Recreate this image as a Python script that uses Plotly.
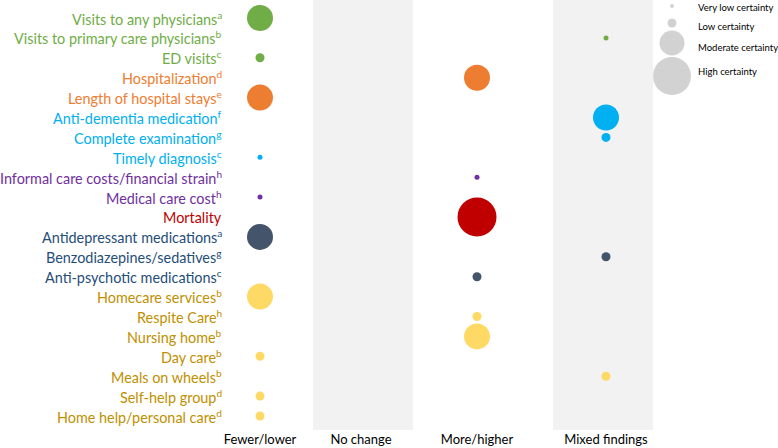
import plotly.graph_objects as go

# ---- data ----
outcomes = [
    "Visits to any physicians<sup>a</sup>",
    "Visits to primary care physicians<sup>b</sup>",
    "ED visits<sup>c</sup>",
    "Hospitalization<sup>d</sup>",
    "Length of hospital stays<sup>e</sup>",
    "Anti-dementia medication<sup>f</sup>",
    "Complete examination<sup>g</sup>",
    "Timely diagnosis<sup>c</sup>",
    "Informal care costs/financial strain<sup>h</sup>",
    "Medical care cost<sup>h</sup>",
    "Mortality",
    "Antidepressant medications<sup>a</sup>",
    "Benzodiazepines/sedatives<sup>g</sup>",
    "Anti-psychotic medications<sup>c</sup>",
    "Homecare services<sup>b</sup>",
    "Respite Care<sup>h</sup>",
    "Nursing home<sup>b</sup>",
    "Day care<sup>b</sup>",
    "Meals on wheels<sup>b</sup>",
    "Self-help group<sup>d</sup>",
    "Home help/personal care<sup>d</sup>",
]
groups = [
    "visits", "visits", "visits",
    "hospital", "hospital",
    "diagnosis", "diagnosis", "diagnosis",
    "cost", "cost",
    "mortality",
    "psychotropic", "psychotropic", "psychotropic",
    "services", "services", "services", "services", "services", "services", "services",
]
findings = [
    "Fewer/lower", "Mixed findings", "Fewer/lower",
    "More/higher", "Fewer/lower",
    "Mixed findings", "Mixed findings", "Fewer/lower",
    "More/higher", "Fewer/lower",
    "More/higher",
    "Fewer/lower", "Mixed findings", "More/higher",
    "Fewer/lower", "More/higher", "More/higher", "Fewer/lower",
    "Mixed findings", "Fewer/lower", "Fewer/lower",
]
certainty = [
    "Moderate", "Very low", "Low",
    "Moderate", "Moderate",
    "Moderate", "Low", "Very low",
    "Very low", "Very low",
    "High",
    "Moderate", "Low", "Low",
    "Moderate", "Low", "Moderate", "Low",
    "Low", "Low", "Low",
]
columns = ["Fewer/lower", "No change", "More/higher", "Mixed findings"]
certainty_levels = ["Very low", "Low", "Moderate", "High"]

# ---- styles / layout ----
col_x = {"Fewer/lower": 260, "No change": 361, "More/higher": 477, "Mixed findings": 606}
shaded_cols = {"No change": (313, 413), "Mixed findings": (553, 653)}
size_map = {"Very low": 5, "Low": 9, "Moderate": 26, "High": 39}
marker_color = {
    "visits": "#70AD47", "hospital": "#ED7D31", "diagnosis": "#00B0F0",
    "cost": "#7030A0", "mortality": "#C00000", "psychotropic": "#44546A",
    "services": "#FFD966",
}
text_color = {
    "visits": "#70AD47", "hospital": "#ED7D31", "diagnosis": "#00B0F0",
    "cost": "#7030A0", "mortality": "#C00000", "psychotropic": "#1F4E79",
    "services": "#BF9000",
}
FONT = "Lato"

W, H = 778, 448
B = 18
row0, step = 18.0, 19.9
plot_h = H - B
y_top = -row0 / step
y_bot = (plot_h - row0) / step

fig = go.Figure()

rows = list(range(len(outcomes)))
fig.add_trace(go.Scatter(
    x=[col_x[f] for f in findings],
    y=rows,
    mode="markers",
    marker=dict(size=[size_map[c] for c in certainty],
                color=[marker_color[g] for g in groups],
                line=dict(width=0), opacity=1),
    hoverinfo="skip", showlegend=False,
))

# outcome labels
for i, (lab, g) in enumerate(zip(outcomes, groups)):
    fig.add_annotation(x=224, y=i, xref="x", yref="y", text=lab, showarrow=False,
                       xanchor="right", yanchor="middle",
                       font=dict(family=FONT, size=14.4, color=text_color[g]))

# shaded columns
for c, (x0, x1) in shaded_cols.items():
    fig.add_shape(type="rect", xref="x", yref="paper", x0=x0, x1=x1, y0=0, y1=1,
                  fillcolor="#F2F2F2", line=dict(width=0), layer="below")

# certainty legend
leg_x = 672
leg_marker_y = [6, 23, 43, 76]
leg_text_y = [7, 26, 47, 71]
leg_sizes = [4, 9, 25, 38]
fig.add_trace(go.Scatter(
    x=[leg_x] * 4, y=[(py - row0) / step for py in leg_marker_y], mode="markers",
    marker=dict(size=leg_sizes, color="#BFBFBF", line=dict(width=0)),
    hoverinfo="skip", showlegend=False,
))
for lvl, ty in zip(certainty_levels, leg_text_y):
    fig.add_annotation(x=696, y=(ty - row0) / step, xref="x", yref="y",
                       text=f"{lvl} certainty", showarrow=False,
                       xanchor="left", yanchor="middle",
                       font=dict(family=FONT, size=9.5, color="#000000"))

fig.update_layout(
    width=W, height=H,
    margin=dict(l=0, r=0, t=0, b=B),
    paper_bgcolor="white", plot_bgcolor="white",
    xaxis=dict(range=[0, W], showgrid=False, zeroline=False, showline=False,
               tickmode="array", tickvals=[col_x[c] for c in columns], ticktext=columns,
               ticks="", ticklen=0, tickfont=dict(family=FONT, size=13, color="#000000")),
    yaxis=dict(range=[y_bot, y_top], showgrid=False, zeroline=False, showline=False,
               showticklabels=False),
)

fig.write_html("out.html", config={"displayModeBar": False},
               post_script="document.body.style.margin='0';document.body.style.overflow='hidden';")
